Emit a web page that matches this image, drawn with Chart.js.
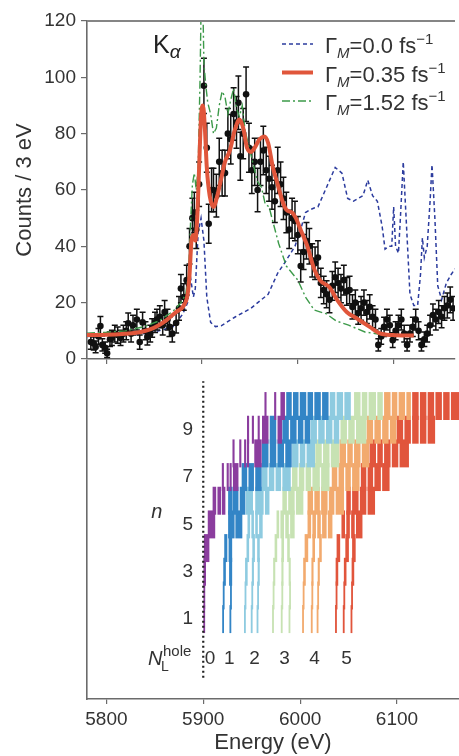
<!DOCTYPE html>
<html>
<head>
<meta charset="utf-8">
<script src="https://cdn.jsdelivr.net/npm/chart.js@4.4.1/dist/chart.umd.min.js"></script>
<style>
  html, body { margin: 0; padding: 0; background: #fff; }
  #wrap { position: relative; width: 459px; height: 756px; overflow: hidden; }
  #topBox { position: absolute; left: 0; top: 0; }
  #bottomBox { position: absolute; left: 0; top: 360px; }
</style>
</head>
<body>
<div id="wrap">
  <div id="topBox"><canvas id="spectrumChart" width="459" height="380"></canvas></div>
  <div id="bottomBox"><canvas id="linesChart" width="459" height="396"></canvas></div>
</div>
<script>
const FONT = '"Liberation Sans", Arial, Helvetica, sans-serif';
const TEXT = '#333';
const AXIS = '#6b6b6b';

// --- axes ---
const energyMin = 5780, energyMax = 6164;
const energyTicks = [5800, 5900, 6000, 6100];
const nTicks = [1, 3, 5, 7, 9];

// --- measured spectrum (counts / 3 eV) ---
const expEnergy = [
  5784, 5787, 5789, 5792, 5794, 5796, 5799, 5801, 5804, 5806,
  5809, 5812, 5815, 5818, 5821, 5823, 5826, 5828, 5832, 5835,
  5838, 5841, 5843, 5846, 5848, 5851, 5853, 5856, 5859, 5861,
  5864, 5866, 5869, 5873, 5876, 5878, 5881, 5884, 5887, 5890,
  5892, 5894, 5897, 5902, 5905, 5907, 5910, 5912, 5915, 5918,
  5921, 5924, 5927, 5930, 5933, 5936, 5938, 5940, 5943, 5946,
  5949, 5952, 5955, 5958, 5961, 5964, 5967, 5970, 5973, 5976,
  5979, 5982, 5985, 5988, 5991, 5994, 5997, 6000, 6003, 6006,
  6009, 6012, 6015, 6018, 6021, 6024, 6027, 6030, 6033, 6036,
  6039, 6042, 6045, 6048, 6051, 6054, 6057, 6060, 6063, 6066,
  6069, 6072, 6075, 6078, 6081, 6084, 6087, 6090, 6093, 6096,
  6099, 6102, 6105, 6108, 6111, 6114, 6117, 6120, 6123, 6126,
  6129, 6132, 6135, 6138, 6141, 6144, 6147, 6150, 6153, 6156,
  6159, 6162
];
const expCounts = [
  6, 5.5, 4.3, 8, 11.7, 5, 4, 2, 7, 7.5,
  9, 8.5, 7.5, 9, 10, 12.7, 9, 12, 14, 6,
  13, 10, 7.8, 9, 11, 13, 14, 15, 12, 16.7,
  14, 11.4, 9, 12.8, 18, 25, 22, 28, 40, 50,
  52, 46, 62, 97, 75, 48, 60, 60, 58, 70,
  66, 66, 80, 78, 87, 84, 91, 72, 80, 94,
  75, 67, 70, 60, 70, 74, 67, 64, 61, 56,
  67, 62, 57, 52, 46, 50, 49, 44, 33, 38,
  42, 40, 35, 34, 36, 27, 24.5, 23, 21, 26,
  29, 27, 25, 28, 24, 24.5, 18.5, 20, 16.3, 18,
  20, 16.7, 18.5, 15, 14, 5, 8, 11.4, 14, 12,
  6.7, 10, 12, 14, 9, 5, 9, 11.4, 14, 10,
  5, 7, 9, 12, 15.6, 14, 16.7, 15, 18, 19,
  21, 18
];
const expErrors = [
  2.5, 2.3, 2.1, 2.8, 3.4, 2.2, 2, 1.5, 2.6, 2.7,
  3, 2.9, 2.7, 3, 3.2, 3.6, 3, 3.5, 3.7, 2.5,
  3.6, 3.2, 2.8, 3, 3.3, 3.6, 3.7, 3.9, 3.5, 4.1,
  3.7, 3.4, 3, 3.6, 4.2, 5, 4.7, 5.3, 6.3, 7.1,
  7.2, 6.8, 7.9, 9.8, 8.7, 6.9, 7.7, 7.7, 7.6, 8.4,
  8.1, 8.1, 8.9, 8.8, 9.3, 9.2, 9.5, 8.5, 8.9, 9.7,
  8.7, 8.2, 8.4, 7.7, 8.4, 8.6, 8.2, 8, 7.8, 7.5,
  8.2, 7.9, 7.5, 7.2, 6.8, 7.1, 7, 6.6, 5.7, 6.2,
  6.5, 6.3, 5.9, 5.8, 6, 5.2, 4.9, 4.8, 4.6, 5.1,
  5.4, 5.2, 5, 5.3, 4.9, 4.9, 4.3, 4.5, 4, 4.2,
  4.5, 4.1, 4.3, 3.9, 3.7, 2.2, 2.8, 3.4, 3.7, 3.5,
  2.6, 3.2, 3.5, 3.7, 3, 2.2, 3, 3.4, 3.7, 3.2,
  2.2, 2.6, 3, 3.5, 3.9, 3.7, 4.1, 3.9, 4.2, 4.4,
  4.6, 4.2
];

// --- simulations for three Gamma_M values ---
const gamma0Energy = [5780, 5830, 5855, 5870, 5880, 5885, 5888, 5891, 5893, 5896, 5899, 5902, 5905, 5909, 5914, 5920, 5928, 5935, 5951, 5969, 5979, 5986, 5997, 6003, 6008, 6013, 6017, 6021, 6030, 6039, 6046, 6052, 6058, 6068, 6073, 6078, 6083, 6088, 6091, 6095, 6098, 6100, 6102, 6105, 6107, 6110, 6113, 6117, 6121, 6125, 6128, 6130, 6132, 6135, 6138, 6140, 6143, 6146, 6150, 6155, 6160, 6164];
const gamma0Counts = [8, 8.5, 10, 11.5, 16, 20, 29, 22, 25, 45, 50, 42, 22, 13, 11.5, 11.8, 13.5, 15, 18, 23, 30.5, 34, 40, 46, 52, 53, 53.6, 54, 61, 68, 66, 57, 56, 58, 63.5, 58, 56, 47, 39, 40, 40, 54, 40, 37.6, 50, 70, 50, 23, 19, 19, 30, 43, 36, 40, 56, 69, 50, 26, 21, 27, 30, 32];

const gamma035Energy = [5780, 5800, 5820, 5835, 5845, 5855, 5863, 5873, 5881, 5885, 5887, 5889, 5891, 5893, 5895, 5897, 5899, 5901, 5903, 5905, 5908, 5912, 5916, 5920, 5924, 5929, 5934, 5939, 5943, 5947, 5951, 5955, 5960, 5965, 5969, 5974, 5979, 5984, 5988, 5994, 5998, 6003, 6010, 6017, 6023, 6033, 6041, 6051, 6061, 6075, 6085, 6099, 6121];
const gamma035Counts = [8.5, 8.6, 9, 9.5, 10.4, 12, 13.8, 16.7, 19, 23, 30, 42, 44, 42, 50, 68, 86, 90, 82, 68, 58, 54, 58, 64, 70, 74, 81, 85, 82, 75, 73.5, 75, 78, 79, 76.7, 68, 62, 56, 53, 52, 50, 45.8, 40, 32, 28, 25.5, 21, 16.7, 14.5, 11.4, 9.2, 8.5, 8.3];

const gamma152Energy = [5780, 5800, 5820, 5840, 5855, 5870, 5878, 5883, 5886, 5888, 5890, 5892, 5894, 5896, 5898, 5899, 5901, 5902, 5904, 5906, 5909, 5912, 5915, 5918, 5921, 5924, 5927, 5930, 5933, 5936, 5939, 5942, 5945, 5950, 5955, 5958, 5962, 5966, 5970, 5973, 5980, 5988, 6000, 6008, 6017, 6030, 6040, 6053, 6070, 6085, 6103, 6120];
const gamma152Counts = [9.2, 9.5, 10, 11.5, 13.5, 17, 20, 23, 30, 48, 62, 66, 60, 68, 100, 124, 124, 105, 97, 91, 87, 80, 82, 90, 95, 93, 87, 92, 96, 89, 86, 90, 81, 74, 67, 63, 61, 55, 54, 50, 41, 33, 28, 22, 17.4, 16, 13.5, 12, 9.6, 8.8, 8.5, 8.5];

const legendValues = ['0.0', '0.35', '1.52'];

// --- transition lines: per n, segments [E start, E end, N_L hole] ---
const transitionRows = [
  /* n=1 */ [[5900.4,5901.6,0],[5919.9,5921.1,1],[5927.4,5928.6,1],[5942.4,5943.6,2],[5949.4,5950.6,2],[5955.4,5956.6,2],[5971.4,5972.6,3],[5980.4,5981.6,3],[5988.4,5989.6,3],[6002.4,6003.6,4],[6011.4,6012.6,4],[6017.4,6018.6,4],[6036.4,6037.6,5],[6044.4,6045.6,5],[6052.4,6053.6,5]],
  /* n=2 */ [[5900.5,5901.7,0],[5920.5,5921.7,1],[5928,5929.2,1],[5943,5944.2,2],[5950,5951.2,2],[5956,5957.2,2],[5972,5973.2,3],[5981,5982.2,3],[5989,5990.2,3],[6003,6004.2,4],[6012,6013.2,4],[6018,6019.2,4],[6037,6038.2,5],[6045,6046.2,5],[6053,6054.2,5]],
  /* n=3 */ [[5900.5,5902.5,0],[5921,5923,1],[5927,5929.5,1],[5943.5,5945.5,2],[5950.5,5952,2],[5956.5,5958,2],[5972.5,5974,3],[5981,5982.5,3],[5988.5,5990,3],[6003.5,6005.5,4],[6012,6013.5,4],[6018.5,6020,4],[6037,6039,5],[6045.5,6047.5,5],[6053.5,6055.5,5]],
  /* n=4 */ [[5901,5906,0],[5922,5924.5,1],[5926.5,5929.5,1],[5945,5947,2],[5951,5953,2],[5956,5958,2],[5974,5976,3],[5981,5983,3],[5987,5989,3],[6005,6008,4],[6013,6015,4],[6020,6022,4],[6038,6041,5],[6047,6050,5],[6054,6057,5]],
  /* n=5 */ [[5905,5912,0],[5926,5932,1],[5933.5,5940,1],[5946,5948,2],[5950,5952,2],[5954,5956,2],[5958,5961,2],[5976,5978,3],[5980,5983,3],[5985,5988,3],[5990,5994,3],[6008,6011,4],[6013,6016,4],[6018,6021,4],[6023,6027,4],[6029,6033,4],[6043,6046,5],[6048,6051,5],[6053,6056,5],[6058,6064,5]],
  /* n=6 */ [[5910,5913,0],[5915,5918,0],[5919.5,5922.5,0],[5926,5930,1],[5931,5936,1],[5938,5943,1],[5944,5951,2],[5954,5962,2],[5964,5968,2],[5982,5986,3],[5988,5994,3],[5996,6003,3],[6008,6013,4],[6015,6020,4],[6022,6028,4],[6030,6035,4],[6037,6045,4],[6048,6052,5],[6054,6060,5],[6062,6068,5],[6070,6077,5]],
  /* n=7 */ [[5919.5,5921,0],[5924.5,5926,0],[5927.5,5929,0],[5931,5936,0],[5940,5945,1],[5947,5952,1],[5954,5960,1],[5961,5966,2],[5968,5973,2],[5975,5980,2],[5982,5990,2],[5992,5997,3],[5999,6004,3],[6006,6011,3],[6013,6020,3],[6022,6030,3],[6033,6038,4],[6040,6045,4],[6047,6052,4],[6054,6061,4],[6063,6068,5],[6070,6075,5],[6077,6083,5],[6085,6092,5]],
  /* n=8 */ [[5930.5,5932,0],[5937.5,5939,0],[5942.5,5944,0],[5945.5,5947,0],[5953,5960,0],[5961,5967,1],[5969,5975,1],[5977,5983,1],[5985,5991,1],[5992,5998,2],[6000,6005,2],[6007,6015,2],[6016,6022,3],[6024,6030,3],[6032,6040,3],[6041,6047,4],[6049,6054,4],[6056,6062,4],[6064,6071,4],[6072,6078,5],[6080,6085,5],[6087,6093,5],[6095,6101,5],[6103,6112,5]],
  /* n=9 */ [[5945.5,5947,0],[5950.5,5952,0],[5956.5,5958,0],[5961,5967,0],[5969,5975,1],[5977,5981,0],[5982,5988,1],[5990,5996,1],[5998,6003,1],[6005,6010,1],[6011,6017,2],[6019,6025,2],[6027,6033,2],[6035,6040,2],[6042,6048,3],[6050,6056,3],[6058,6068,3],[6069,6075,4],[6077,6083,4],[6085,6091,4],[6093,6099,4],[6100,6106,5],[6108,6114,5],[6116,6122,5],[6124,6130,5],[6132,6139,5]],
  /* n=10 */ [[5963.5,5965,0],[5973.5,5975,0],[5980,5984,0],[5986,5991,1],[5993,5998,1],[6000,6006,1],[6008,6013,1],[6015,6021,1],[6023,6029,1],[6031,6036,2],[6038,6044,2],[6046,6052,2],[6056,6062,3],[6064,6069,3],[6071,6078,3],[6080,6085,3],[6087,6093,4],[6095,6100,4],[6102,6108,4],[6110,6114,4],[6116,6122,5],[6124,6130,5],[6132,6138,5],[6140,6146,5],[6148,6154,5],[6156,6165,5]]
];
const holeLabels = ['0', '1', '2', '3', '4', '5'];
const holeLabelEnergy = [5907, 5927, 5953, 5984, 6015, 6048];

const holeColors = ['#8b3d9e', '#3385c6', '#8ecbe0', '#c7e2b3', '#f2aa6e', '#e1553c'];
const blueCol = '#2c3c9e', redCol = '#e0563b', greenCol = '#3d9a4a';

Chart.defaults.font.family = FONT;
Chart.defaults.color = TEXT;

function pts(xs, ys) { return xs.map((x, i) => ({ x: x, y: ys[i] })); }

function drawRuns(ctx, x, y, runs) {
  runs.forEach(r => {
    ctx.font = (r.italic ? 'italic ' : '') + r.size + 'px ' + FONT;
    ctx.fillText(r.text, x, y + (r.dy || 0));
    x += ctx.measureText(r.text).width;
  });
}

// error bars for the measured points
const errorBars = {
  id: 'errorBars',
  afterDatasetDraw(chart, args) {
    const ds = chart.data.datasets[args.index];
    if (!ds.errors) return;
    const xs = chart.scales.x, ys = chart.scales.y, ctx = chart.ctx, a = chart.chartArea;
    ctx.save();
    ctx.beginPath(); ctx.rect(a.left, a.top, a.right - a.left, a.bottom - a.top); ctx.clip();
    ctx.strokeStyle = '#111'; ctx.lineWidth = 1.5;
    ds.data.forEach((p, i) => {
      const px = xs.getPixelForValue(p.x);
      const y1 = ys.getPixelForValue(p.y - ds.errors[i]);
      const y2 = ys.getPixelForValue(p.y + ds.errors[i]);
      ctx.beginPath();
      ctx.moveTo(px, y1); ctx.lineTo(px, y2);
      ctx.moveTo(px - 3, y1); ctx.lineTo(px + 3, y1);
      ctx.moveTo(px - 3, y2); ctx.lineTo(px + 3, y2);
      ctx.stroke();
    });
    ctx.restore();
  }
};

// frame top line, K alpha and legend
const topDecor = {
  id: 'topDecor',
  afterDraw(chart) {
    const ctx = chart.ctx, a = chart.chartArea;
    ctx.save();
    ctx.strokeStyle = '#858585'; ctx.lineWidth = 2;
    ctx.beginPath(); ctx.moveTo(a.left, a.top); ctx.lineTo(a.right, a.top); ctx.stroke();

    ctx.fillStyle = '#222'; ctx.textAlign = 'left'; ctx.textBaseline = 'alphabetic';
    drawRuns(ctx, 153, 53, [{ text: 'K', size: 25 }, { text: 'α', size: 19, italic: true, dy: 5 }]);

    const styles = [
      { color: blueCol, width: 1.5, dash: [4, 3] },
      { color: redCol, width: 4, dash: [] },
      { color: greenCol, width: 1.5, dash: [8, 3, 2, 3] }
    ];
    legendValues.forEach((v, i) => {
      const base = 53 + i * 28.5;
      const s = styles[i];
      ctx.strokeStyle = s.color; ctx.lineWidth = s.width; ctx.setLineDash(s.dash);
      ctx.beginPath(); ctx.moveTo(282, base - 9); ctx.lineTo(313, base - 9); ctx.stroke();
      ctx.setLineDash([]);
      ctx.fillStyle = TEXT;
      drawRuns(ctx, 325, base, [
        { text: 'Γ', size: 22 },
        { text: 'M', size: 15, italic: true, dy: 5 },
        { text: '=' + v + ' fs', size: 22 },
        { text: '−1', size: 15, dy: -9 }
      ]);
    });
    ctx.restore();
  }
};

new Chart(document.getElementById('spectrumChart'), {
  type: 'line',
  data: {
    datasets: [
      { label: 'gamma035', data: pts(gamma035Energy, gamma035Counts), borderColor: redCol, borderWidth: 4, pointRadius: 0, cubicInterpolationMode: 'monotone', fill: false },
      { label: 'gamma152', data: pts(gamma152Energy, gamma152Counts), borderColor: greenCol, borderWidth: 1.4, borderDash: [8, 3, 2, 3], pointRadius: 0, tension: 0, fill: false },
      { label: 'exp', data: pts(expEnergy, expCounts), errors: expErrors, showLine: false, pointRadius: 3.3, pointBackgroundColor: '#111', pointBorderWidth: 0 },
      { label: 'gamma0', data: pts(gamma0Energy, gamma0Counts), borderColor: blueCol, borderWidth: 1.5, borderDash: [4, 3], pointRadius: 0, tension: 0, fill: false }
    ]
  },
  options: {
    responsive: false,
    devicePixelRatio: 1,
    animation: false,
    layout: { padding: { top: 21, right: 0, bottom: 0, left: 0 } },
    plugins: { legend: { display: false }, tooltip: { enabled: false } },
    scales: {
      x: {
        type: 'linear', min: energyMin, max: energyMax,
        afterBuildTicks: s => { s.ticks = energyTicks.map(v => ({ value: v })); },
        afterFit: s => { s.height = 21; },
        ticks: { display: false },
        grid: { drawOnChartArea: false, tickLength: 5, color: AXIS, lineWidth: 1.2 },
        border: { color: AXIS, width: 1.6 }
      },
      y: {
        min: 0, max: 120,
        afterFit: s => { s.width = 87; },
        ticks: { stepSize: 20, font: { size: 19 }, color: TEXT, padding: 5 },
        grid: { drawOnChartArea: false, tickLength: 6, color: AXIS, lineWidth: 1.2 },
        border: { color: AXIS, width: 1.6 },
        title: { display: true, text: 'Counts / 3 eV', font: { size: 22 }, color: TEXT, padding: { top: 12, bottom: 0 } }
      }
    }
  },
  plugins: [errorBars, topDecor]
});

// labels inside the lower panel
const bottomDecor = {
  id: 'bottomDecor',
  afterDraw(chart) {
    const ctx = chart.ctx, xs = chart.scales.x, ys = chart.scales.y;
    ctx.save();
    ctx.fillStyle = TEXT;
    ctx.textAlign = 'center'; ctx.textBaseline = 'middle';
    ctx.font = '19px ' + FONT;
    nTicks.forEach(n => ctx.fillText(String(n), xs.getPixelForValue(5884), ys.getPixelForValue(n)));
    ctx.font = 'italic 20px ' + FONT;
    ctx.fillText('n', xs.getPixelForValue(5852), ys.getPixelForValue(5.5));

    const rowY = ys.getPixelForValue(-0.66);
    ctx.font = '19px ' + FONT;
    holeLabels.forEach((t, i) => ctx.fillText(t, xs.getPixelForValue(holeLabelEnergy[i]), rowY));

    ctx.textAlign = 'left'; ctx.textBaseline = 'alphabetic';
    const nx = xs.getPixelForValue(5843);
    ctx.font = 'italic 20px ' + FONT;
    ctx.fillText('N', nx, rowY + 7);
    ctx.font = '14px ' + FONT;
    ctx.fillText('L', nx + 13, rowY + 13);
    ctx.font = '15px ' + FONT;
    ctx.fillText('hole', nx + 15, rowY - 2);
    ctx.restore();
  }
};

const lineDatasets = holeColors.map((col, k) => ({
  type: 'bar',
  label: 'NL' + k,
  data: transitionRows.flatMap((row, i) => row.filter(s => s[2] === k).map(s => ({ x: [s[0], s[1]], y: i + 1 }))),
  backgroundColor: col,
  borderWidth: 0,
  barThickness: 27.3,
  grouped: false
}));

new Chart(document.getElementById('linesChart'), {
  type: 'bar',
  data: {
    datasets: [
      { type: 'line', label: 'edge', data: [{ x: 5900, y: -1.48 }, { x: 5900, y: 11.05 }], borderColor: '#222', borderWidth: 2.2, borderDash: [2, 3], pointRadius: 0 }
    ].concat(lineDatasets)
  },
  options: {
    indexAxis: 'y',
    responsive: false,
    devicePixelRatio: 1,
    animation: false,
    layout: { padding: { top: 0, right: 0, bottom: 0, left: 0 } },
    plugins: { legend: { display: false }, tooltip: { enabled: false } },
    scales: {
      x: {
        type: 'linear', min: energyMin, max: energyMax,
        afterBuildTicks: s => { s.ticks = energyTicks.map(v => ({ value: v })); },
        afterFit: s => { s.height = 57; },
        ticks: { font: { size: 19 }, color: TEXT, padding: 4, maxRotation: 0, callback: v => String(v) },
        grid: { drawOnChartArea: false, tickLength: 5, color: AXIS, lineWidth: 1.2 },
        border: { color: AXIS, width: 1.6 },
        title: { display: true, text: 'Energy (eV)', font: { size: 22 }, color: TEXT, padding: { top: 0, bottom: 0 } }
      },
      y: {
        type: 'linear', min: -1.48, max: 11.05,
        afterFit: s => { s.width = 87; },
        ticks: { display: false },
        grid: { display: false },
        border: { color: AXIS, width: 1.6 }
      }
    }
  },
  plugins: [bottomDecor]
});
</script>
</body>
</html>
